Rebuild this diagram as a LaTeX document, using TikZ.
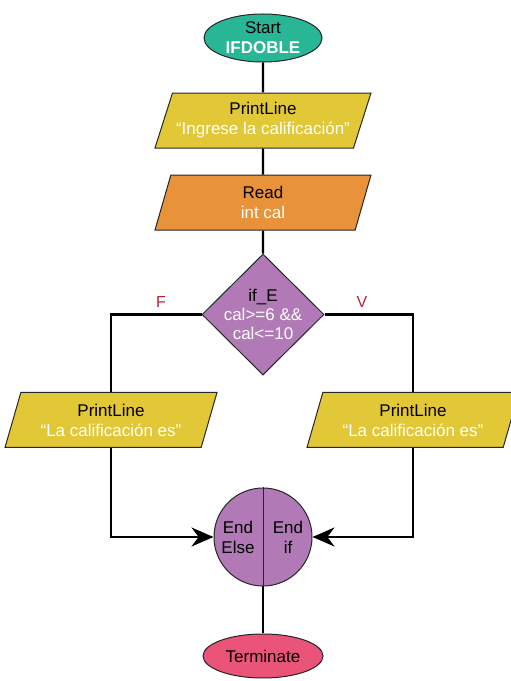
\documentclass[tikz,border=0pt]{standalone}
\usepackage{fontspec}
\setmainfont{Liberation Sans}
\usepackage{tikz}
\usetikzlibrary{shapes.geometric,arrows.meta,positioning}
\definecolor{teal}{RGB}{40, 182, 150}
\definecolor{yell}{RGB}{226, 199, 54}
\definecolor{oran}{RGB}{232, 146, 58}
\definecolor{purp}{RGB}{177, 122, 182}
\definecolor{pink}{RGB}{233, 84, 120}
\definecolor{fred}{RGB}{184, 35, 58}
\tikzstyle{term} = [ellipse, draw=black!85, line width=1pt, text=black, align=center, font=\fontsize{17}{20}\selectfont, inner sep=0pt]
\tikzstyle{io} = [trapezium, trapezium left angle=64, trapezium right angle=116, trapezium stretches body, draw=black!85, line width=1pt, fill=yell, text=black, align=center, font=\fontsize{17}{20}\selectfont, minimum width=216pt, minimum height=55pt, inner sep=0pt]
\tikzstyle{dec} = [diamond, draw=black!85, line width=1pt, fill=purp, text=black, align=center, font=\fontsize{17}{19}\selectfont, minimum width=122pt, minimum height=121pt, inner sep=-12pt]
\tikzstyle{lbl} = [text=fred, font=\fontsize{16}{18}\selectfont]
\tikzstyle{flow}  = [draw, line width=2.2pt, black]
\tikzstyle{tflow}  = [draw, line width=2.2pt, black, -{Stealth[length=22pt,width=19pt]}]

\begin{document}
\begin{tikzpicture}[x=1pt, y=1pt]
\useasboundingbox (0,0) rectangle (511,681);

% main column =============================

\node[term, fill=teal, minimum width=118pt, minimum height=48pt] (start) at (263,643) {Start\\\textcolor{white}{\textbf{IFDOBLE}}};
\node[io, below=30pt of start] (print1) {PrintLine\\\textcolor{white}{“Ingrese la calificación”}};
\node[io, fill=oran, below=26pt of print1] (read) {Read\\\textcolor{white}{int cal}};
\node[dec, below=23pt of read] (ife) {if\_E\\\textcolor{white}{cal>=6 \&\&}\\\textcolor{white}{cal<=10}};

% branches
\node[io, minimum width=212pt] (printf) at (111,261) {PrintLine\\\textcolor{white}{“La calificación es”}};
\node[io, minimum width=212pt] (printv) at (413,261) {PrintLine\\\textcolor{white}{“La calificación es”}};
\node[lbl] (labf) at (161,379) {F};
\node[lbl] (labv) at (362,379) {V};

% end if
\node[circle, draw=black!85, line width=1pt, fill=purp, minimum size=98pt] (endif) at (263,144) {};
\path[draw, line width=1pt, black!85] (endif.north) -- (endif.south);
\node[align=center, font=\fontsize{17}{20}\selectfont] (endelse) at ([xshift=-25pt]endif.center) {End\\Else};
\node[align=center, font=\fontsize{17}{20}\selectfont] (endthen) at ([xshift=25pt]endif.center) {End\\if};
\node[term, fill=pink, minimum width=120pt, minimum height=44pt, below=47pt of endif] (stop) {Terminate};

%edges
\path[flow] (start) -- (print1);
\path[flow] (print1) -- (read);
\path[flow] (read) -- (ife);
\path[flow] (ife.west) -| (printf.north);
\path[flow] (ife.east) -| (printv.north);
\path[tflow] (printf.south) |- (endif.west);
\path[tflow] (printv.south) |- (endif.east);
\path[flow] (endif) -- (stop);

\end{tikzpicture}
\end{document}
